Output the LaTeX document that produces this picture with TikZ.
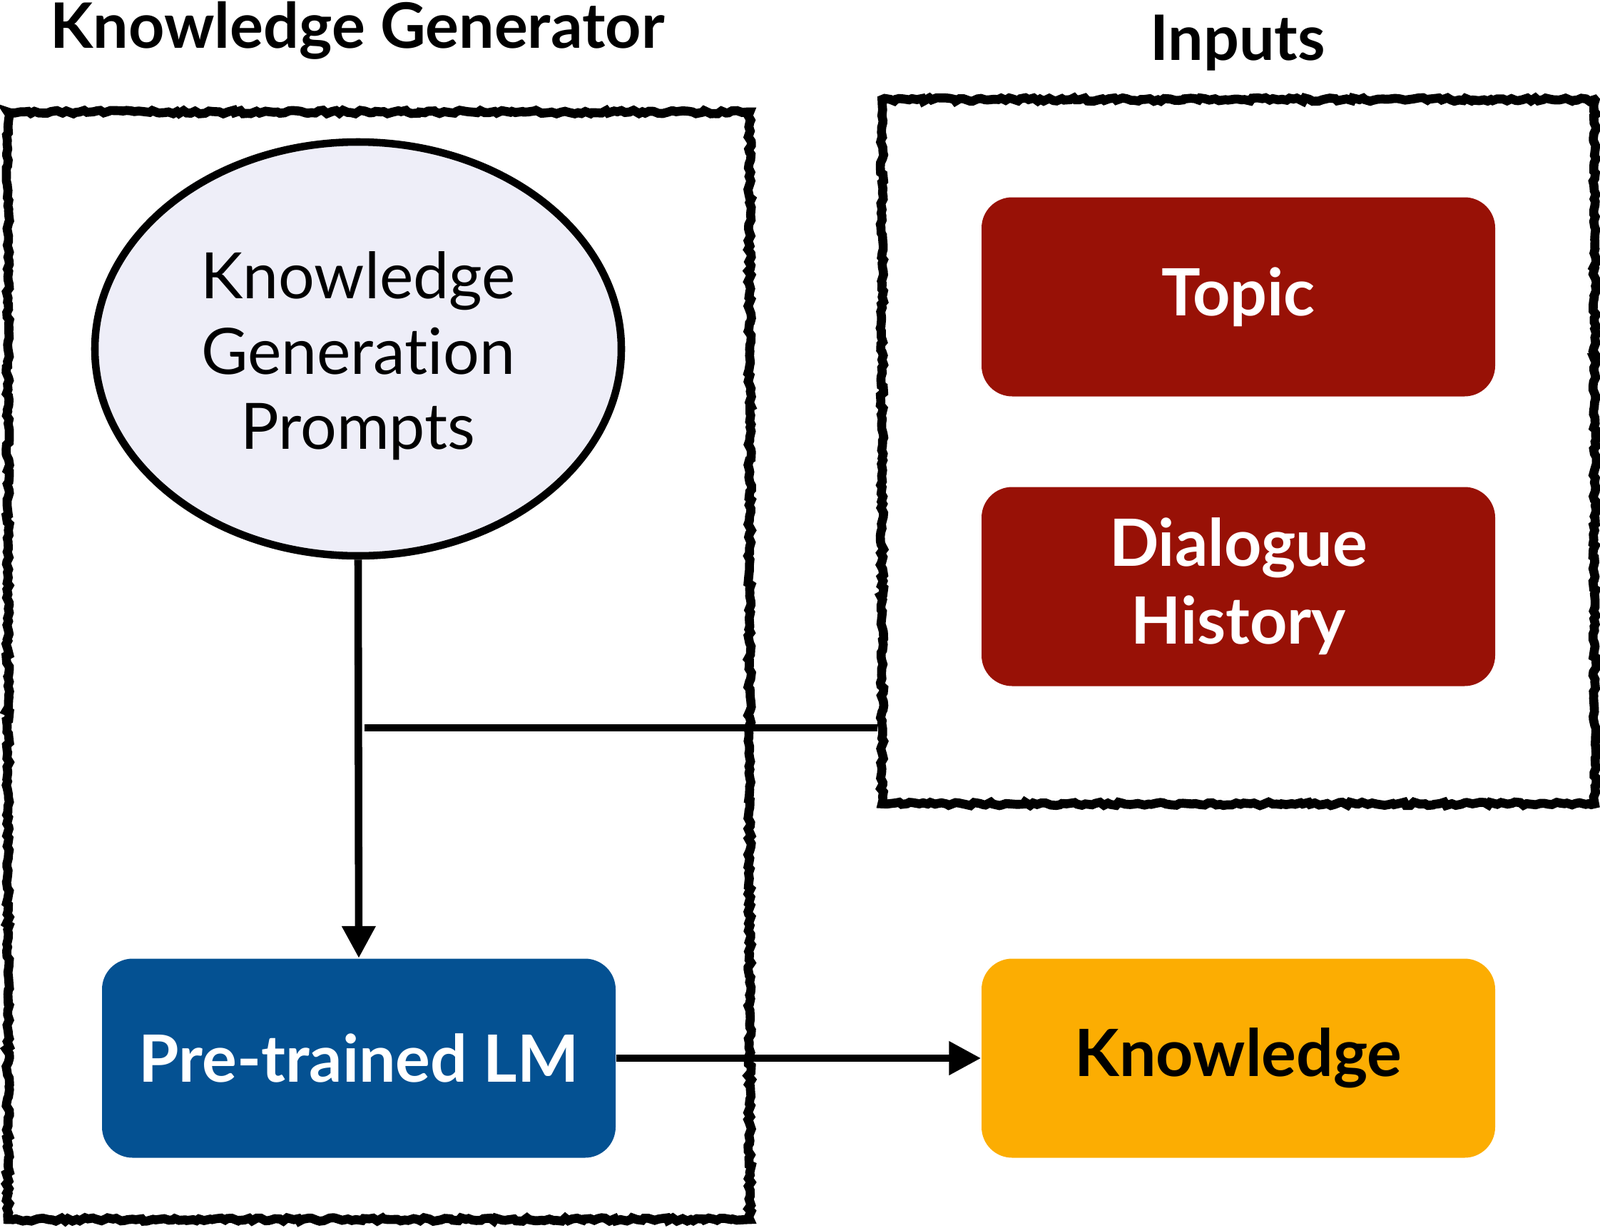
\documentclass[tikz,border=0pt]{standalone}
\usepackage{fontspec}
\setmainfont{Lato}[Ligatures=NoCommon]
\usepackage{tikz}
\usetikzlibrary{arrows.meta,positioning,shapes.geometric,decorations.pathmorphing}
\definecolor{promptfill}{HTML}{EEEEF8}
\definecolor{inred}{HTML}{981106}
\definecolor{lmblue}{HTML}{045192}
\definecolor{knowgold}{HTML}{FCAD02}

\begin{document}
\begin{tikzpicture}[
  font=\fontsize{25}{30}\selectfont, >={Triangle[length=4.5mm, width=4.5mm]},
  rough/.style={draw, line width=3.6pt, decorate,
    decoration={random steps, segment length=1.6pt, amplitude=0.7pt}},
  blk/.style={rounded corners=4.3mm, minimum width=72mm, minimum height=27.9mm,
    align=center, font=\fontsize{26}{31}\selectfont\bfseries, fill=#1},
  blk/.default=white, conn/.style={line width=3pt},
  ttl/.style={font=\fontsize{25}{29}\selectfont\bfseries}]
  \useasboundingbox (0,0) rectangle (22.43,-17.2);
  \node[ttl] (gentitle) at (5.01,-0.43) {Knowledge Generator};
  \node[ttl] (intitle) at (17.35,-0.60) {Inputs};
  \node[rough, minimum width=104mm, minimum height=155.2mm] (genbox) at (5.31,-9.33) {};
  \node[rough, minimum width=99.9mm, minimum height=98.7mm] (inbox) at (17.36,-6.33) {};
  \node[ellipse, draw, line width=3pt, fill=promptfill, minimum width=73.8mm,
    minimum height=58mm, inner sep=0pt] (prompts) at (5.02,-4.89) {};
  \node[align=center, font=\fontsize{25.5}{30}\selectfont] (promptstxt)
    at ([yshift=-1mm]prompts.center) {Knowledge\\Generation\\Prompts};
  \node[blk=inred, text=white] (topic) at (17.36,-4.16) {Topic};
  \node[blk=inred, text=white] (history) at (17.36,-8.22) {Dialogue\\History};
  \node[blk=lmblue, text=white] (lm) at (5.03,-14.83) {Pre-trained LM};
  \node[blk=knowgold, text=black] (know) at (17.36,-14.83) {Knowledge};
  \coordinate (tap) at (5.11,-10.20);
  \draw[conn, ->] (prompts.south) -- (lm.north);
  \draw[conn] (tap) -- (tap -| inbox.west);
  \draw[conn, ->] (lm) -- (know);
\end{tikzpicture}
\end{document}
